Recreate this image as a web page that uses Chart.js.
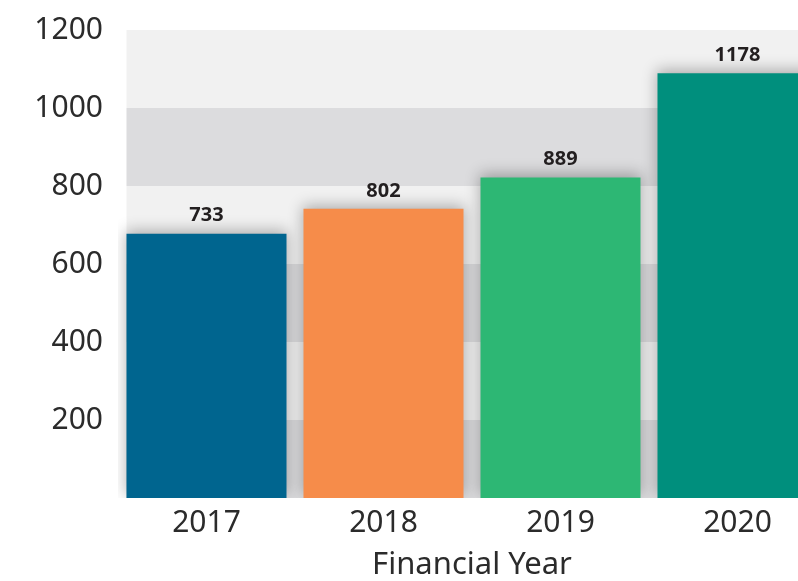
<!DOCTYPE html>
<html>
<head>
<meta charset="utf-8">
<script src="https://cdn.jsdelivr.net/npm/chart.js@4.4.0/dist/chart.umd.min.js"></script>
<style>
  html, body { margin: 0; padding: 0; background: #fff; overflow: hidden; }
  #wrap { width: 826px; height: 581px; }
</style>
</head>
<body>
<div id="wrap"><canvas id="chart" width="826" height="581"></canvas></div>
<script>
// data
const years = ['2017', '2018', '2019', '2020'];
const revenue = [733, 802, 889, 1178];
const barColors = ['#00658f', '#f68c4a', '#2db774', '#008f7d'];
const yTicks = [0, 200, 400, 600, 800, 1000, 1200];

const textColor = '#2b2b2b';
const family = '"Noto Sans", "DejaVu Sans", sans-serif';

// alternating grey bands behind the bars, plus soft shadow on bars
const bandsAndShadow = {
    id: 'bandsAndShadow',
    beforeDatasetsDraw(chart) {
        const ctx = chart.ctx;
        const area = chart.chartArea;
        const ys = chart.scales.y2;
        const first = chart.getDatasetMeta(0).data[0];
        const left = first.x - first.width / 2;
        for (let k = 0; k < yTicks.length - 1; k++) {
            const top = ys.getPixelForValue(yTicks[k + 1]);
            const bot = ys.getPixelForValue(yTicks[k]);
            ctx.fillStyle = k % 2 === 0 ? '#dcdcde' : '#f1f1f1';
            ctx.fillRect(left, top, area.right - left, bot - top);
        }
        ctx.save();
        ctx.beginPath();
        ctx.rect(area.left, area.top - 40, area.right - area.left + 40, area.bottom - area.top + 40);
        ctx.clip();
        ctx.shadowColor = 'rgba(0, 0, 0, 0.3)';
        ctx.shadowBlur = 14;
        ctx.shadowOffsetY = -3;
    },
    afterDatasetsDraw(chart) {
        const ctx = chart.ctx;
        ctx.restore();
        // value labels above bars
        ctx.save();
        ctx.font = 'bold 20px ' + family;
        ctx.fillStyle = '#231f20';
        ctx.textAlign = 'center';
        ctx.textBaseline = 'middle';
        chart.getDatasetMeta(0).data.forEach((bar, i) => {
            ctx.fillText(String(revenue[i]), bar.x, bar.y - 18);
        });
        ctx.restore();
    }
};

function initChart() {
    const ctx = document.getElementById('chart').getContext('2d');
    new Chart(ctx, {
        type: 'bar',
        data: {
            labels: years,
            datasets: [{
                data: revenue,
                backgroundColor: barColors,
                borderWidth: 0,
                categoryPercentage: 1,
                barPercentage: 0.904,
                yAxisID: 'y'
            }]
        },
        options: {
            responsive: false,
            animation: false,
            layout: { padding: { top: 30, right: 0, left: 0, bottom: 0 } },
            plugins: { legend: { display: false }, tooltip: { enabled: false } },
            scales: {
                x: {
                    grid: { display: false, drawTicks: false },
                    border: { display: false },
                    ticks: { color: textColor, font: { family, size: 30 }, padding: 7 },
                    title: {
                        display: true, text: 'Financial Year', color: textColor,
                        font: { family, size: 31, lineHeight: 1 }, padding: 0
                    },
                    afterFit(s) { s.height = 83; s.paddingLeft = 0; s.paddingRight = 0; }
                },
                y: { display: false, min: 0, max: 1298 },
                y2: {
                    position: 'left',
                    min: 0, max: 1200,
                    afterBuildTicks(s) { s.ticks = yTicks.filter(v => v > 0).map(v => ({ value: v })); },
                    grid: { display: false, drawTicks: false },
                    border: { display: false },
                    ticks: {
                        color: textColor, font: { family, size: 30 }, padding: 15,
                        callback: v => String(v)
                    },
                    afterFit(s) { s.width = 118; s.paddingTop = 0; s.paddingBottom = 0; }
                }
            }
        },
        plugins: [bandsAndShadow]
    });
}

document.addEventListener('DOMContentLoaded', initChart);
</script>
</body>
</html>
